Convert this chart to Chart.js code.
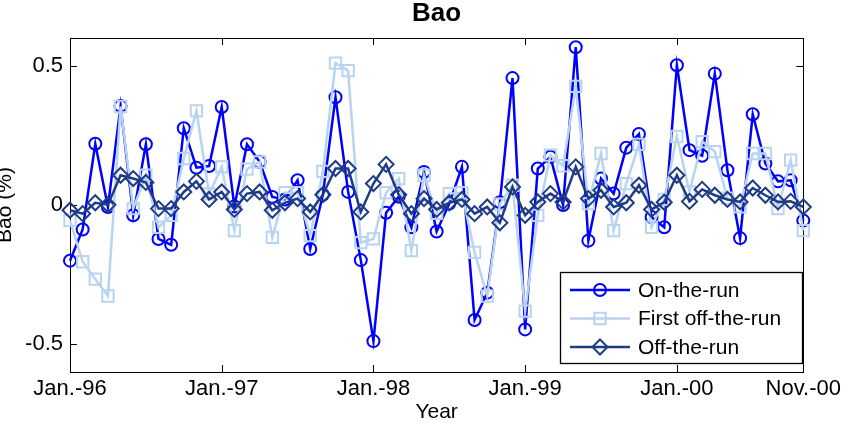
<!DOCTYPE html>
<html>
<head>
<meta charset="utf-8">
<title>Bao</title>
<script src="https://cdn.jsdelivr.net/npm/chart.js@4/dist/chart.umd.min.js"></script>
<style>
  html, body { margin: 0; padding: 0; background: #fff; }
  canvas { display: block; }
</style>
</head>
<body>
<canvas id="bao-chart" width="845" height="425"></canvas>
<script>
// monthly series, Jan.-96 .. Nov.-00
const years = ['96', '97', '98', '99', '00'];
const monthNames = ['Jan.', 'Feb.', 'Mar.', 'Apr.', 'May', 'Jun.', 'Jul.', 'Aug.', 'Sep.', 'Oct.', 'Nov.', 'Dec.'];

const onTheRun = [
  -0.200, -0.088, 0.220, -0.007, 0.356, -0.037, 0.218, -0.122, -0.143, 0.276, 0.134, 0.140,
  0.352, -0.005, 0.218, 0.155, 0.029, 0.020, 0.089, -0.158, 0.037, 0.387, 0.047, -0.198,
  -0.489, -0.028, 0.030, -0.080, 0.119, -0.095, 0.005, 0.137, -0.413, -0.315, 0.010, 0.456,
  -0.447, 0.131, 0.173, 0.000, 0.567, -0.128, 0.095, 0.041, 0.206, 0.255, -0.043, -0.080,
  0.502, 0.197, 0.177, 0.472, 0.125, -0.119, 0.326, 0.149, 0.085, 0.089, -0.056
];
const firstOffTheRun = [
  -0.055, -0.204, -0.266, -0.327, 0.354, -0.013, 0.107, -0.080, -0.037, 0.167, 0.338, 0.040,
  0.137, -0.092, 0.129, 0.155, -0.116, 0.044, 0.044, -0.110, 0.121, 0.510, 0.483, -0.135,
  -0.122, 0.044, 0.095, -0.164, 0.107, -0.030, 0.041, 0.044, -0.170, -0.327, 0.003, 0.071,
  -0.381, -0.037, 0.179, 0.141, 0.426, 0.005, 0.185, -0.092, 0.077, 0.218, -0.080, 0.020,
  0.246, 0.047, 0.228, 0.192, 0.025, -0.007, 0.185, 0.185, -0.013, 0.161, -0.092
];
const offTheRun = [
  -0.019, -0.031, 0.008, 0.001, 0.107, 0.095, 0.081, -0.013, -0.013, 0.047, 0.085, 0.020,
  0.047, -0.016, 0.041, 0.047, -0.019, 0.008, 0.023, -0.025, 0.037, 0.131, 0.131, -0.025,
  0.077, 0.146, 0.037, -0.031, 0.023, -0.016, 0.008, 0.020, -0.031, -0.007, -0.064, 0.065,
  -0.037, 0.011, 0.041, 0.011, 0.137, 0.023, 0.053, -0.007, 0.008, 0.071, -0.016, 0.010,
  0.107, 0.013, 0.056, 0.035, 0.020, 0.011, 0.061, 0.035, 0.011, 0.013, -0.007
];

const xTickIndex = [0, 12, 24, 36, 48, 58];
const xTickLabels = ['Jan.-96', 'Jan.-97', 'Jan.-98', 'Jan.-99', 'Jan.-00', 'Nov.-00'];
const yTickValues = [-0.5, 0, 0.5];
const yTickLabels = ['-0.5', '0', '0.5'];

const months = [];
years.forEach(y => monthNames.forEach(m => months.push(m + '-' + y)));
months.length = onTheRun.length;

const FONT = '"Liberation Sans", Arial, Helvetica, sans-serif';

// axes box with inward ticks on all four sides
const boxAxes = {
  id: 'boxAxes',
  beforeDatasetsDraw(chart) {
    const { ctx, chartArea: a, scales: { x, y } } = chart;
    const tl = 7;
    ctx.save();
    ctx.strokeStyle = '#000';
    ctx.lineWidth = 1;
    ctx.beginPath();
    xTickIndex.forEach(i => {
      const px = Math.round(x.getPixelForValue(i)) + 0.5;
      ctx.moveTo(px, a.bottom); ctx.lineTo(px, a.bottom - tl);
      ctx.moveTo(px, a.top); ctx.lineTo(px, a.top + tl);
    });
    yTickValues.forEach(v => {
      const py = Math.round(y.getPixelForValue(v)) + 0.5;
      ctx.moveTo(a.left, py); ctx.lineTo(a.left + tl, py);
      ctx.moveTo(a.right, py); ctx.lineTo(a.right - tl, py);
    });
    ctx.stroke();
    ctx.strokeRect(Math.round(a.left) + 0.5, Math.round(a.top) + 0.5,
                   Math.round(a.right - a.left), Math.round(a.bottom - a.top));
    ctx.restore();
  }
};

// legend box in the lower right corner of the plot
const boxLegend = {
  id: 'boxLegend',
  afterDraw(chart) {
    const { ctx } = chart;
    const bx = 560, by = 272, bw = 242, bh = 91;
    ctx.save();
    ctx.fillStyle = '#fff';
    ctx.fillRect(bx, by, bw, bh);
    ctx.strokeStyle = '#000';
    ctx.lineWidth = 1.3;
    ctx.strokeRect(bx + 0.5, by + 0.5, bw, bh);
    chart.data.datasets.forEach((ds, i) => {
      const ly = by + 18 + i * 28.5;
      ctx.strokeStyle = ds.borderColor;
      ctx.lineWidth = ds.borderWidth;
      ctx.beginPath();
      ctx.moveTo(bx + 10, ly); ctx.lineTo(bx + 70, ly);
      ctx.stroke();
      ctx.fillStyle = 'rgba(0,0,0,0)';
      ctx.strokeStyle = ds.pointBorderColor;
      ctx.lineWidth = ds.pointBorderWidth;
      Chart.helpers.drawPoint(ctx, {
        pointStyle: ds.pointStyle, radius: ds.pointRadius,
        borderWidth: ds.pointBorderWidth, rotation: 0
      }, bx + 40, ly);
      ctx.fillStyle = '#000';
      ctx.font = '21px ' + FONT;
      ctx.textBaseline = 'middle';
      ctx.textAlign = 'left';
      ctx.fillText(ds.label, bx + 78, ly + 1);
    });
    ctx.restore();
  }
};

function series(label, data, color, style, radius, order) {
  return {
    label, data, order,
    borderColor: color, borderWidth: 2.5,
    pointStyle: style, pointRadius: radius, pointHoverRadius: radius,
    pointBorderColor: color, pointBorderWidth: 2,
    pointBackgroundColor: 'rgba(0,0,0,0)',
    tension: 0, fill: false, clip: false
  };
}

new Chart(document.getElementById('bao-chart').getContext('2d'), {
  type: 'line',
  data: {
    labels: months,
    datasets: [
      series('On-the-run', onTheRun, '#0000ff', 'circle', 6, 3),
      series('First off-the-run', firstOffTheRun, '#b9d4f0', 'rect', 8, 2),
      series('Off-the-run', offTheRun, '#1f3b85', 'rectRot', 7.5, 1)
    ]
  },
  options: {
    responsive: false,
    animation: false,
    events: [],
    layout: { padding: { left: 0, right: 37, top: 0, bottom: 0 } },
    plugins: {
      legend: { display: false },
      tooltip: { enabled: false },
      title: {
        display: true,
        fullSize: false,
        text: 'Bao',
        color: '#000',
        font: { family: FONT, size: 26, weight: 'bold' },
        padding: { top: -2, bottom: 8.8 }
      }
    },
    scales: {
      x: {
        type: 'category',
        offset: false,
        grid: { display: false, drawTicks: false },
        border: { display: false },
        ticks: {
          autoSkip: false, maxRotation: 0, padding: 4, color: '#000',
          font: { family: FONT, size: 22 },
          callback: (v, i) => {
            const k = xTickIndex.indexOf(i);
            return k >= 0 ? xTickLabels[k] : '';
          }
        },
        title: {
          display: true, text: 'Year', color: '#000',
          font: { family: FONT, size: 21 },
          padding: { top: 0, bottom: 0 }
        },
        afterFit: s => { s.height = 53; }
      },
      y: {
        min: -0.6, max: 0.6,
        grid: { display: false, drawTicks: false },
        border: { display: false },
        afterBuildTicks: s => { s.ticks = yTickValues.map(v => ({ value: v })); },
        ticks: {
          padding: 7, color: '#000',
          font: { family: FONT, size: 22 },
          callback: v => yTickLabels[yTickValues.indexOf(v)]
        },
        title: {
          display: true, text: 'Bao (%)', color: '#000',
          font: { family: FONT, size: 21 },
          padding: { top: -7, bottom: 0 }
        },
        afterFit: s => { s.width = 70; }
      }
    }
  },
  plugins: [boxAxes, boxLegend]
});
</script>
</body>
</html>
